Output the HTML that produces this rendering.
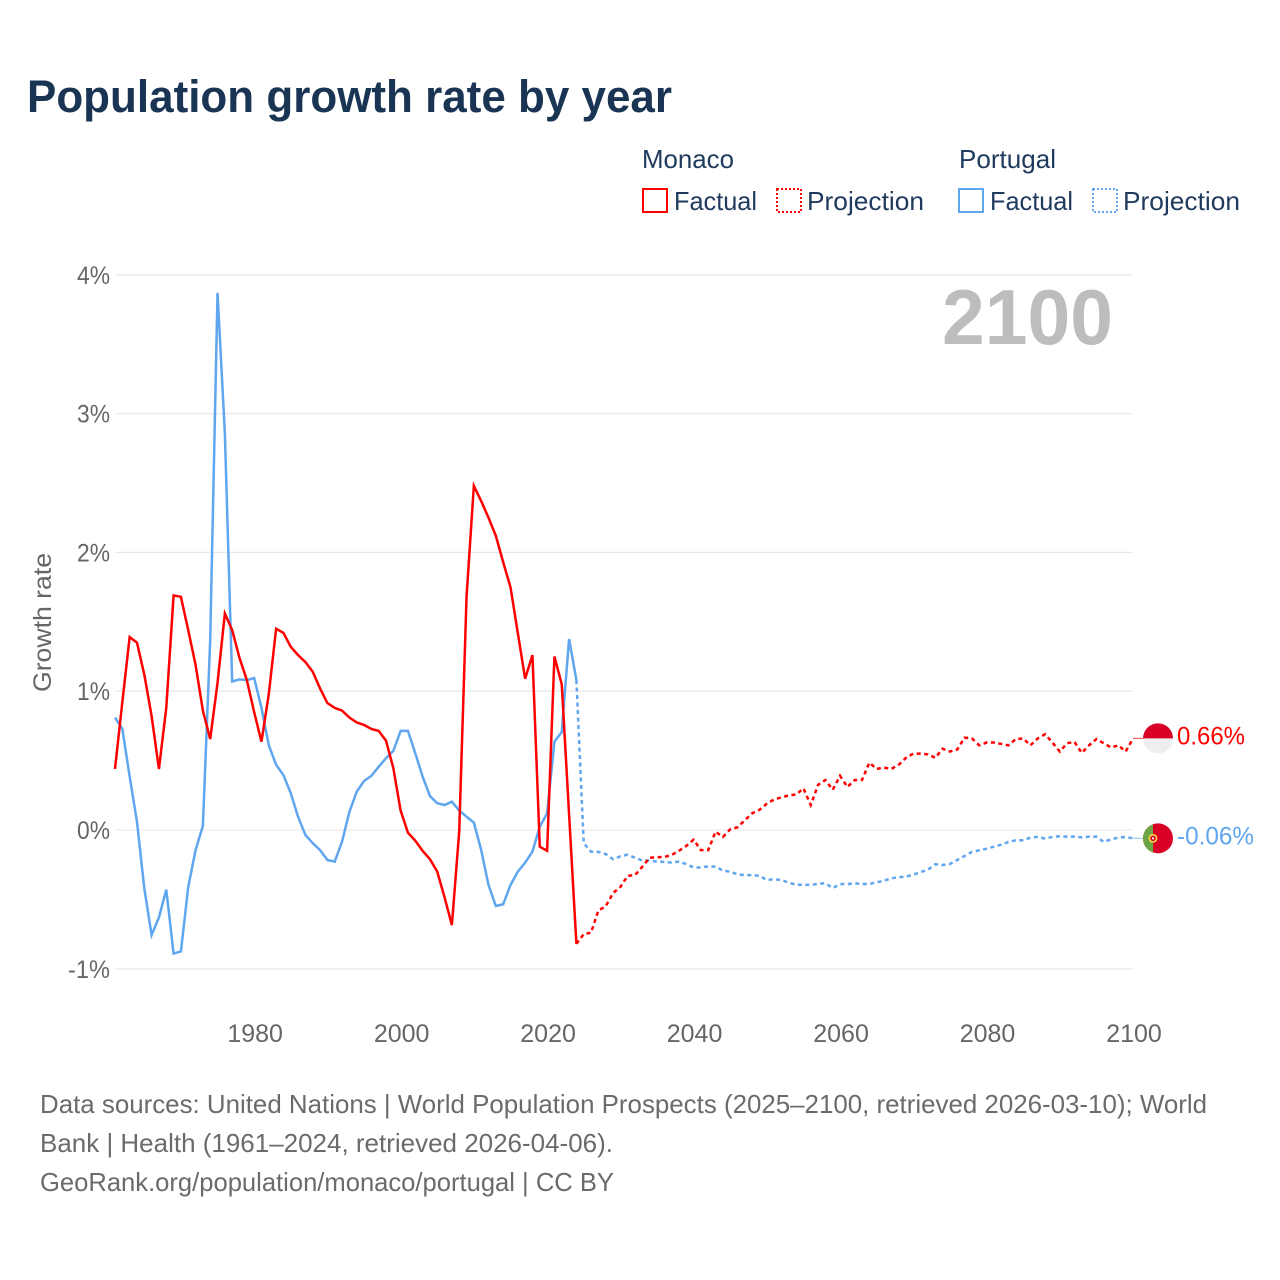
<!DOCTYPE html>
<html lang="en">
<head>
<meta charset="utf-8">
<title>Population growth rate by year</title>
<style>
html,body{margin:0;padding:0;background:#fff;}
svg{display:block;font-family:"Liberation Sans",sans-serif;}
</style>
</head>
<body>
<svg id="chart" xmlns="http://www.w3.org/2000/svg" width="1280" height="1280" viewBox="0 0 1280 1280">
<rect width="1280" height="1280" fill="#ffffff"/>
<text x="27" y="112" font-size="45" font-weight="700" fill="#1a3454" textLength="645" lengthAdjust="spacingAndGlyphs">Population growth rate by year</text>
<g font-size="26" fill="#1f3a5c">
<text x="642" y="168" textLength="92" lengthAdjust="spacingAndGlyphs">Monaco</text>
<text x="959" y="168" textLength="97" lengthAdjust="spacingAndGlyphs">Portugal</text>
<rect x="643" y="189" width="24" height="23" fill="none" stroke="#ff0000" stroke-width="2"/>
<text x="674" y="210" textLength="83" lengthAdjust="spacingAndGlyphs">Factual</text>
<rect x="777" y="189" width="24" height="23" fill="none" stroke="#ff0000" stroke-width="2" stroke-dasharray="2 2"/>
<text x="807" y="210" textLength="117" lengthAdjust="spacingAndGlyphs">Projection</text>
<rect x="959" y="189" width="24" height="23" fill="none" stroke="#5fa6ee" stroke-width="2"/>
<text x="990" y="210" textLength="83" lengthAdjust="spacingAndGlyphs">Factual</text>
<rect x="1093" y="189" width="24" height="23" fill="none" stroke="#5fa6ee" stroke-width="2" stroke-dasharray="2 2"/>
<text x="1123" y="210" textLength="117" lengthAdjust="spacingAndGlyphs">Projection</text>
</g>
<g id="grid"></g>
<g id="y-ticks"></g>
<g id="x-ticks"></g>
<text transform="translate(51,692) rotate(-90)" font-size="25" fill="#666666" textLength="139" lengthAdjust="spacingAndGlyphs">Growth rate</text>
<text x="942" y="344" font-size="78" font-weight="700" fill="#bdbdbd" textLength="171" lengthAdjust="spacingAndGlyphs">2100</text>
<g id="series"></g>
<g id="end-markers"></g>
<g font-size="26" fill="#6b6b6b">
<text x="40" y="1113" textLength="1167" lengthAdjust="spacingAndGlyphs">Data sources: United Nations | World Population Prospects (2025–2100, retrieved 2026-03-10); World</text>
<text x="40" y="1152" textLength="573" lengthAdjust="spacingAndGlyphs">Bank | Health (1961–2024, retrieved 2026-04-06).</text>
<text x="40" y="1191" textLength="574" lengthAdjust="spacingAndGlyphs">GeoRank.org/population/monaco/portugal | CC BY</text>
</g>
</svg>
<script>
const yTickValues = [-1, 0, 1, 2, 3, 4];
const xTickYears = [1980, 2000, 2020, 2040, 2060, 2080, 2100];
const factualStartYear = 1961;
const monacoFactual = [0.44,0.92,1.39,1.35,1.12,0.82,0.44,0.88,1.69,1.68,1.44,1.19,0.86,0.655,1.06,1.56,1.44,1.24,1.08,0.85,0.636,0.98,1.45,1.42,1.32,1.26,1.21,1.14,1.02,0.915,0.88,0.86,0.81,0.775,0.757,0.728,0.714,0.644,0.447,0.14,-0.02,-0.077,-0.15,-0.21,-0.30,-0.485,-0.685,-0.01,1.68,2.48,2.37,2.25,2.12,1.93,1.75,1.42,1.09,1.26,-0.12,-0.15,1.25,1.05,0.115,-0.82];
const monacoProjection = [-0.75,-0.74,-0.58,-0.55,-0.455,-0.41,-0.33,-0.325,-0.265,-0.20,-0.195,-0.195,-0.18,-0.15,-0.115,-0.07,-0.145,-0.145,-0.012,-0.05,0.005,0.02,0.07,0.12,0.145,0.19,0.22,0.235,0.25,0.255,0.30,0.18,0.325,0.36,0.29,0.39,0.31,0.36,0.36,0.485,0.44,0.45,0.44,0.47,0.52,0.55,0.55,0.545,0.52,0.585,0.565,0.58,0.665,0.66,0.61,0.63,0.63,0.62,0.61,0.655,0.66,0.61,0.66,0.69,0.63,0.565,0.625,0.635,0.555,0.61,0.655,0.625,0.595,0.61,0.565,0.66];
const portugalFactual = [0.81,0.73,0.385,0.06,-0.42,-0.757,-0.63,-0.43,-0.89,-0.875,-0.41,-0.145,0.03,1.37,3.87,2.86,1.07,1.085,1.08,1.095,0.88,0.61,0.47,0.395,0.265,0.095,-0.036,-0.095,-0.145,-0.216,-0.228,-0.084,0.13,0.275,0.353,0.39,0.455,0.517,0.57,0.714,0.714,0.553,0.385,0.245,0.193,0.18,0.204,0.14,0.096,0.053,-0.144,-0.396,-0.548,-0.535,-0.396,-0.30,-0.235,-0.156,0.024,0.12,0.636,0.706,1.376,1.08];
const portugalProjection = [-0.095,-0.156,-0.158,-0.173,-0.21,-0.19,-0.178,-0.20,-0.22,-0.22,-0.228,-0.23,-0.235,-0.228,-0.245,-0.27,-0.27,-0.262,-0.264,-0.293,-0.30,-0.32,-0.325,-0.325,-0.33,-0.36,-0.355,-0.36,-0.38,-0.394,-0.394,-0.396,-0.387,-0.384,-0.418,-0.39,-0.389,-0.384,-0.389,-0.389,-0.377,-0.365,-0.348,-0.34,-0.336,-0.322,-0.303,-0.286,-0.247,-0.252,-0.245,-0.216,-0.187,-0.158,-0.146,-0.135,-0.12,-0.106,-0.086,-0.074,-0.074,-0.055,-0.05,-0.062,-0.05,-0.045,-0.048,-0.048,-0.053,-0.048,-0.048,-0.086,-0.067,-0.055,-0.05,-0.06];

const SVG_NS = 'http://www.w3.org/2000/svg';
const RED = '#ff0000';
const BLUE = '#5fa6ee';
const LINE_WIDTH = 2.5;
const DASH = '4 3.5';
const xScale = year => 115 + (year - 1961) * (1133 - 115) / (2100 - 1961);
const yScale = value => 830 - value * 138.8;

function make(tag, parent) {
  const el = document.createElementNS(SVG_NS, tag);
  parent.appendChild(el);
  return el;
}
function pathFrom(values, startYear) {
  return values.map((v, i) => (i ? 'L' : 'M') + xScale(startYear + i).toFixed(2) + ' ' + yScale(v).toFixed(2)).join(' ');
}

const grid = document.getElementById('grid');
const yTicks = document.getElementById('y-ticks');
yTickValues.forEach(v => {
  const line = make('line', grid);
  
  
  line.setAttribute('x1', 115);
  line.setAttribute('x2', 1133);
  line.setAttribute('y1', yScale(v));
  line.setAttribute('y2', yScale(v));
  line.setAttribute('stroke', '#e9e9e9');
  line.setAttribute('stroke-width', 1.3);
  const label = make('text', yTicks);
  
  
  label.setAttribute('x', 110);
  label.setAttribute('y', yScale(v) + 9);
  label.setAttribute('text-anchor', 'end');
  label.setAttribute('font-size', 25);
  label.setAttribute('fill', '#666666');
  label.setAttribute('textLength', v < 0 ? 42 : 33);
  label.setAttribute('lengthAdjust', 'spacingAndGlyphs');
  label.textContent = v + '%';
});

const xTicks = document.getElementById('x-ticks');
xTickYears.forEach(year => {
  const label = make('text', xTicks);
  
  
  label.setAttribute('x', xScale(year) + 1);
  label.setAttribute('y', 1042);
  label.setAttribute('text-anchor', 'middle');
  label.setAttribute('font-size', 25);
  label.setAttribute('fill', '#666666');
  label.textContent = year;
});

const series = document.getElementById('series');
const projectionStartYear = factualStartYear + monacoFactual.length - 1;

const portugalFactualLine = make('path', series);


portugalFactualLine.setAttribute('d', pathFrom(portugalFactual, factualStartYear));
portugalFactualLine.setAttribute('fill', 'none');
portugalFactualLine.setAttribute('stroke', BLUE);
portugalFactualLine.setAttribute('stroke-width', LINE_WIDTH);

const portugalProjectionLine = make('path', series);


portugalProjectionLine.setAttribute('d', pathFrom([portugalFactual[portugalFactual.length - 1]].concat(portugalProjection), projectionStartYear));
portugalProjectionLine.setAttribute('fill', 'none');
portugalProjectionLine.setAttribute('stroke', BLUE);
portugalProjectionLine.setAttribute('stroke-width', LINE_WIDTH);
portugalProjectionLine.setAttribute('stroke-dasharray', DASH);

const monacoFactualLine = make('path', series);


monacoFactualLine.setAttribute('d', pathFrom(monacoFactual, factualStartYear));
monacoFactualLine.setAttribute('fill', 'none');
monacoFactualLine.setAttribute('stroke', RED);
monacoFactualLine.setAttribute('stroke-width', LINE_WIDTH);

const monacoProjectionLine = make('path', series);


monacoProjectionLine.setAttribute('d', pathFrom([monacoFactual[monacoFactual.length - 1]].concat(monacoProjection), projectionStartYear));
monacoProjectionLine.setAttribute('fill', 'none');
monacoProjectionLine.setAttribute('stroke', RED);
monacoProjectionLine.setAttribute('stroke-width', LINE_WIDTH);
monacoProjectionLine.setAttribute('stroke-dasharray', DASH);

const markers = document.getElementById('end-markers');
const monacoEnd = monacoProjection[monacoProjection.length - 1];
const portugalEnd = portugalProjection[portugalProjection.length - 1];
const monacoY = yScale(monacoEnd);
const portugalY = yScale(portugalEnd);

const monacoLeader = make('line', markers);


monacoLeader.setAttribute('x1', 1133);
monacoLeader.setAttribute('x2', 1143);
monacoLeader.setAttribute('y1', monacoY);
monacoLeader.setAttribute('y2', monacoY);
monacoLeader.setAttribute('stroke', '#ff6666');
monacoLeader.setAttribute('stroke-width', 1.2);

const portugalLeader = make('line', markers);


portugalLeader.setAttribute('x1', 1133);
portugalLeader.setAttribute('x2', 1143);
portugalLeader.setAttribute('y1', portugalY);
portugalLeader.setAttribute('y2', portugalY);
portugalLeader.setAttribute('stroke', '#9cc8f4');
portugalLeader.setAttribute('stroke-width', 1.2);

const monacoFlag = make('g', markers);


monacoFlag.setAttribute('transform', 'translate(1158,' + monacoY + ')');
const monacoBase = make('circle', monacoFlag);


monacoBase.setAttribute('r', 15);
monacoBase.setAttribute('fill', '#eeeeee');
const monacoTop = make('path', monacoFlag);


monacoTop.setAttribute('d', 'M-15 0A15 15 0 0 1 15 0Z');
monacoTop.setAttribute('fill', '#d80027');

const portugalFlag = make('g', markers);


portugalFlag.setAttribute('transform', 'translate(1158,' + portugalY + ')');
const portugalBase = make('circle', portugalFlag);


portugalBase.setAttribute('r', 15);
portugalBase.setAttribute('fill', '#d80027');
const portugalGreen = make('path', portugalFlag);


portugalGreen.setAttribute('d', 'M-5 -14.14A15 15 0 0 0 -5 14.14Z');
portugalGreen.setAttribute('fill', '#6da544');
const portugalRing = make('circle', portugalFlag);


portugalRing.setAttribute('cx', -5);
portugalRing.setAttribute('r', 3.6);
portugalRing.setAttribute('fill', '#d80027');
portugalRing.setAttribute('stroke', '#ffda44');
portugalRing.setAttribute('stroke-width', 1.6);
const portugalShield = make('rect', portugalFlag);


portugalShield.setAttribute('x', -6);
portugalShield.setAttribute('y', -1);
portugalShield.setAttribute('width', 2);
portugalShield.setAttribute('height', 2);
portugalShield.setAttribute('fill', '#eeeeee');

const monacoValue = make('text', markers);


monacoValue.setAttribute('x', 1177);
monacoValue.setAttribute('y', monacoY + 6);
monacoValue.setAttribute('font-size', 25);
monacoValue.setAttribute('fill', RED);
monacoValue.setAttribute('textLength', 68);
monacoValue.setAttribute('lengthAdjust', 'spacingAndGlyphs');
monacoValue.textContent = monacoEnd.toFixed(2) + '%';

const portugalValue = make('text', markers);


portugalValue.setAttribute('x', 1177);
portugalValue.setAttribute('y', portugalY + 6);
portugalValue.setAttribute('font-size', 25);
portugalValue.setAttribute('fill', BLUE);
portugalValue.setAttribute('textLength', 77);
portugalValue.setAttribute('lengthAdjust', 'spacingAndGlyphs');
portugalValue.textContent = portugalEnd.toFixed(2) + '%';
</script>
</body>
</html>
